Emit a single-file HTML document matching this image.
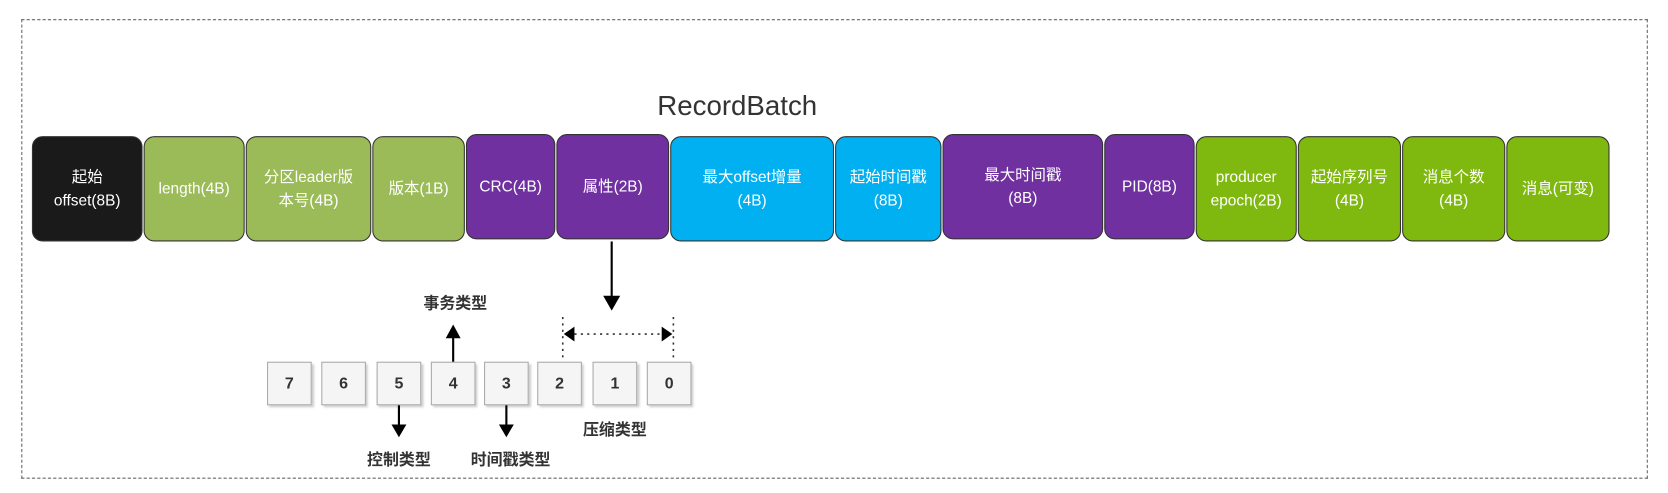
<!DOCTYPE html>
<html><head><meta charset="utf-8"><style>
body{margin:0;width:1668px;height:492px;background:#fff;position:relative;overflow:hidden;font-family:"Liberation Sans","Noto Sans CJK SC",sans-serif}
#w{position:absolute;left:0;top:0;width:1568px;height:463px;transform:scale(1.0638);transform-origin:0 0}
.frame{position:absolute;left:20px;top:18px;width:1527px;height:430px;border:1px dashed #666}
.b{position:absolute;top:128px;height:99px;border:1px solid #333;border-radius:10px;box-sizing:border-box;color:#fff;font-size:14.5px;display:flex;align-items:center;justify-content:center;text-align:center;line-height:22px}
.k{background:#1a1a1a}.g{background:#9bbb59}.p{background:#7030a0;top:126px}.c{background:#00b0f0}.G{background:#7fb80e}
.bit{position:absolute;top:340px;width:42px;height:41px;border:1px solid #aaa;background:#f5f5f5;box-shadow:2px 2px 2px #ccc;box-sizing:border-box;font-size:15px;font-weight:bold;color:#333;display:flex;align-items:center;justify-content:center}
.t{position:absolute;font-size:15px;font-weight:bold;color:#333;transform:translateX(-50%);white-space:nowrap}
</style></head><body><div id="w">
<div class="frame"></div>
<div style="position:absolute;left:0;width:1386px;top:84px;text-align:center;font-size:26px;color:#333">RecordBatch</div>
<div class="b k" style="left:30px;width:104px">起始<br>offset(8B)</div>
<div class="b g" style="left:135px;width:95px">length(4B)</div>
<div class="b g" style="left:231px;width:118px">分区leader版<br>本号(4B)</div>
<div class="b g" style="left:350px;width:87px">版本(1B)</div>
<div class="b p" style="left:438px;width:84px">CRC(4B)</div>
<div class="b p" style="left:523px;width:106px">属性(2B)</div>
<div class="b c" style="left:630px;width:154px">最大offset增量<br>(4B)</div>
<div class="b c" style="left:785px;width:100px">起始时间戳<br>(8B)</div>
<div class="b p" style="left:886px;width:151px">最大时间戳<br>(8B)</div>
<div class="b p" style="left:1038px;width:85px">PID(8B)</div>
<div class="b G" style="left:1124px;width:95px">producer<br>epoch(2B)</div>
<div class="b G" style="left:1220px;width:97px">起始序列号<br>(4B)</div>
<div class="b G" style="left:1318px;width:97px">消息个数<br>(4B)</div>
<div class="b G" style="left:1416px;width:97px">消息(可变)</div>
<div class="bit" style="left:251px">7</div>
<div class="bit" style="left:302px">6</div>
<div class="bit" style="left:354px">5</div>
<div class="bit" style="left:405px">4</div>
<div class="bit" style="left:455px">3</div>
<div class="bit" style="left:505px">2</div>
<div class="bit" style="left:557px">1</div>
<div class="bit" style="left:608px">0</div>
<svg width="1568" height="463" style="position:absolute;left:0;top:0">
<g stroke="#000" stroke-width="2" fill="#000">
<line x1="575" y1="227" x2="575" y2="280"/><polygon points="567,278 583,278 575,292" stroke="none"/>
<line x1="426" y1="340" x2="426" y2="316"/><polygon points="419,318 433,318 426,305" stroke="none"/>
<line x1="375" y1="381" x2="375" y2="400"/><polygon points="368,399 382,399 375,411" stroke="none"/>
<line x1="476" y1="381" x2="476" y2="400"/><polygon points="469,399 483,399 476,411" stroke="none"/>
</g>
<g stroke="#333" stroke-width="1.5" stroke-dasharray="2,4" fill="none">
<line x1="529" y1="298" x2="529" y2="336"/><line x1="633" y1="298" x2="633" y2="336"/>
<line x1="540" y1="314" x2="622" y2="314"/>
</g>
<polygon points="530,314 540,307 540,321" fill="#000"/>
<polygon points="632,314 622,307 622,321" fill="#000"/>
</svg>
<div class="t" style="left:428px;top:274px">事务类型</div>
<div class="t" style="left:578px;top:393px">压缩类型</div>
<div class="t" style="left:375px;top:421px">控制类型</div>
<div class="t" style="left:480px;top:421px">时间戳类型</div>
</div></body></html>
